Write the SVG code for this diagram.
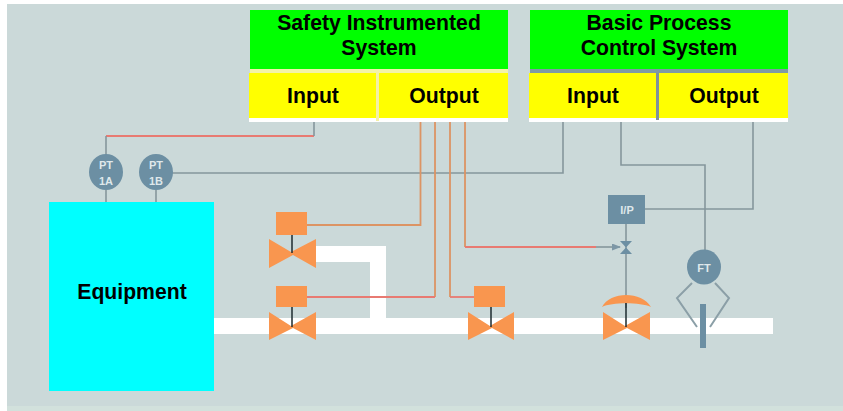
<svg xmlns="http://www.w3.org/2000/svg" width="843" height="411" viewBox="0 0 843 411">
<style>
.t{font-family:"Liberation Sans",Arial,sans-serif;font-weight:bold;fill:#000;text-anchor:middle;font-size:21.2px}
.i{font-family:"Liberation Sans",Arial,sans-serif;font-weight:bold;fill:#dfe8eb;text-anchor:middle;font-size:11px}
.g{fill:#00ff00}.y{fill:#ffff00}.o{fill:#f9964f}.b{fill:#6c8fa3}
.lg{fill:none;stroke:#85969c;stroke-width:1.6}
.lo{fill:none;stroke:#dc9464;stroke-width:1.8}
.lr{fill:none;stroke:#e87a72;stroke-width:1.8}
.st{stroke:#1d2a2e;stroke-width:1.5}
.pipe{fill:#fff}
</style>
<defs>
<marker id="a" markerUnits="userSpaceOnUse" markerWidth="9" markerHeight="7" refX="8" refY="3.5" orient="auto"><path d="M0 0L9 3.5L0 7Z" fill="#7d97a6"/></marker>
</defs>
<rect x="7" y="4" width="836" height="407" fill="#cbd9d9"/>
<rect x="7" y="406" width="836" height="5" fill="#d2e1dc"/>
<g id="pipes">
<rect class="pipe" x="214" y="318" width="559" height="16"/>
<path class="pipe" d="M316 246H386V320H370V262H316Z"/>
</g>
<g id="connectors">
<path class="lr" d="M314 136H106"/>
<path class="lg" d="M314 122V136M106 136V158"/>
<path class="lg" d="M106 190V202M156 190V202"/>
<path class="lg" d="M170 173H563V122"/>
<path class="lo" d="M420.500 122V225H307"/>
<path class="lo" d="M435 122V297"/>
<path class="lr" d="M435 297H307"/>
<path class="lo" d="M450 122V297"/>
<path class="lr" d="M450 297H475"/>
<path class="lo" d="M465 122V247"/>
<path class="lr" d="M465 247H596"/>
<path class="lg" d="M596 247H620" marker-end="url(#a)"/>
<path class="lg" d="M621 122V165H705V250"/>
<path class="lg" d="M753 122V209H645"/>
<path class="lg" d="M626 224V308"/>
<path fill="none" stroke="#8b9fa7" stroke-width="2" d="M692 283L677 298L697 327M715 283L729 298L710 327"/>
</g>
<g id="sis">
<rect class="g" x="250" y="10" width="258" height="59"/>
<rect x="250" y="69" width="258" height="4" fill="#f3f3a8"/>
<rect x="249" y="118" width="259" height="4" fill="#fff"/>
<rect x="376" y="73" width="3" height="48" fill="#f4f0a8"/>
<text class="t" x="379" y="30">Safety Instrumented</text>
<text class="t" x="379" y="55">System</text>
</g>
<g id="sis-input"><rect class="y" x="249" y="73" width="127" height="45"/><text class="t" x="313" y="103">Input</text></g>
<g id="sis-output"><rect class="y" x="379" y="73" width="129" height="45"/><text class="t" x="444" y="103">Output</text></g>
<g id="bpcs">
<rect class="g" x="530" y="10" width="258" height="59"/>
<rect x="530" y="69" width="258" height="4" fill="#7f9aa4"/>
<rect x="529" y="118" width="259" height="4" fill="#fff"/>
<text class="t" x="659" y="30">Basic Process</text>
<text class="t" x="659" y="55">Control System</text>
</g>
<g id="bpcs-input"><rect class="y" x="529" y="73" width="127" height="45"/><text class="t" x="593" y="103">Input</text></g>
<g id="bpcs-output"><rect class="y" x="659" y="73" width="129" height="45"/><text class="t" x="724" y="103">Output</text></g>
<rect x="656" y="73" width="3" height="47" fill="#7f929c"/>
<g id="equipment"><rect x="49" y="202" width="165" height="189" fill="#00ffff"/><text class="t" x="132" y="299">Equipment</text></g>
<g id="pt1a"><ellipse class="b" cx="106" cy="172" rx="17" ry="18"/><text class="i" x="106" y="169">PT</text><text class="i" x="106" y="185">1A</text></g>
<g id="pt1b"><ellipse class="b" cx="156" cy="172" rx="17" ry="18"/><text class="i" x="156" y="169">PT</text><text class="i" x="156" y="185">1B</text></g>
<g id="valve1">
<rect class="o" x="276" y="212" width="31" height="23"/>
<path class="o" d="M269 239L291 252L316 239V268L293 255L269 268Z"/>
<path class="st" d="M292 235V253"/>
</g>
<g id="valve2">
<rect class="o" x="276" y="286" width="31" height="21"/>
<path class="o" d="M269 312L291 326L316 312V340L293 328L269 340Z"/>
<path class="st" d="M292 307V327"/>
</g>
<g id="valve3">
<rect class="o" x="474" y="286" width="31" height="21"/>
<path class="o" d="M468 312L490 326L514 312V340L492 328L468 340Z"/>
<path class="st" d="M491 307V327"/>
</g>
<g id="valve4">
<path class="o" d="M602 307C610 291 642 291 651 307C640 302 612 302 602 307Z"/>
<path class="o" d="M603 312L625 326L650 312V340L627 328L603 340Z"/>
<path class="st" d="M626 303V327"/>
</g>
<g id="solenoid"><path d="M620 241L632 241L620 254L632 254Z" fill="#6c8fa3"/></g>
<g id="ip"><rect class="b" x="608" y="195" width="37" height="29"/><text class="i" x="627" y="214">I/P</text></g>
<g id="ft">
<ellipse class="b" cx="704" cy="267" rx="17" ry="17.500"/><text class="i" x="704" y="272">FT</text>
<rect x="700" y="304" width="6" height="44" fill="#6c8fa3"/>
</g>
</svg>
